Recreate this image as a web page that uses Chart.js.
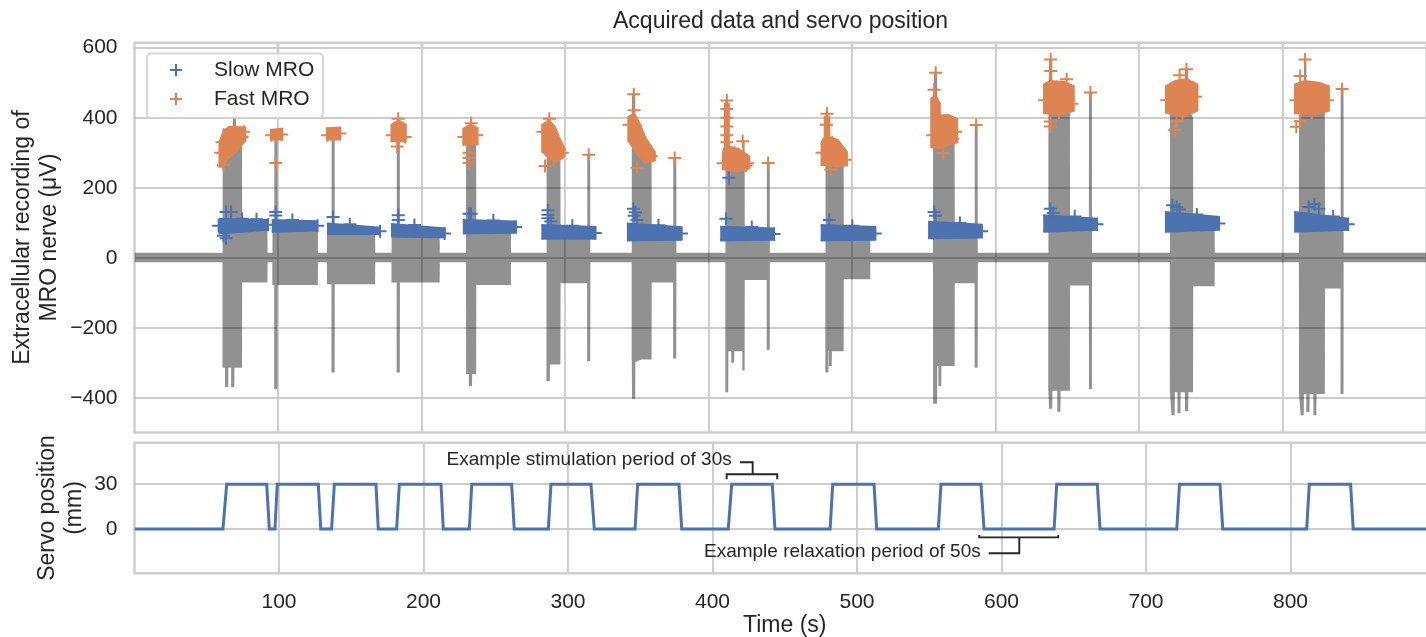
<!DOCTYPE html>
<html>
<head>
<meta charset="utf-8">
<script src="https://cdn.jsdelivr.net/npm/chart.js@4.4.1/dist/chart.umd.min.js"></script>
<style>
  html, body { margin: 0; padding: 0; background: #fff; overflow: hidden; }
  #wrap { position: relative; width: 1426px; height: 637px; overflow: hidden; }
  #signalChart { position: absolute; left: 0; top: 0; }
  #servoChart { position: absolute; left: 0; top: 400px; }
</style>
</head>
<body>
<div id="wrap">
  <canvas id="signalChart" width="1435" height="441"></canvas>
  <canvas id="servoChart" width="1435" height="246"></canvas>
</div>
<script>
// ---- data ----
const xTicks = [100, 200, 300, 400, 500, 600, 700, 800];
const signalYTicks = [-400, -200, 0, 200, 400, 600];
const servoYTicks = [0, 30];
const seriesNames = ['Slow MRO', 'Fast MRO'];

// servo position (mm) over time (s)
const servoTime = [0, 61.2, 63.8, 91.5, 93.3, 97.2, 98.8, 127.2, 128.9, 136.4, 138.3, 167.1, 168.7,
  181.4, 183.3, 212.1, 213.7, 231.7, 233.4, 261.0, 262.8, 286.4, 288.2, 315.9, 318.2,
  346.4, 348.2, 376.8, 378.7, 410.9, 413.3, 441.4, 443.2, 481.4, 483.2, 511.8, 513.6,
  556.3, 558.1, 585.8, 587.9, 636.4, 638.2, 666.3, 668.2, 721.3, 723.2, 751.2, 753.1,
  811.2, 813.0, 841.6, 843.4, 900];
const servoPos = [0, 0, 30, 30, 0, 0, 30, 30, 0, 0, 30, 30, 0,
  0, 30, 30, 0, 0, 30, 30, 0, 0, 30, 30, 0,
  0, 30, 30, 0, 0, 30, 30, 0, 0, 30, 30, 0,
  0, 30, 30, 0, 0, 30, 30, 0, 0, 30, 30, 0,
  0, 30, 30, 0, 0];

// recorded signal envelope: [time, upper µV, lower µV]
const signalEnvelope = [
  [0, 15, -12],
  [61.3, 15, -12], [61.4, 370, -313], [63.0, 370, -313], [63.1, 370, -368], [65.3, 370, -368], [65.4, 370, -313],
  [67.3, 375, -313], [67.4, 375, -368], [68.4, 375, -368], [68.5, 407, -368], [69.5, 407, -368], [69.6, 407, -313],
  [70.6, 407, -313], [70.7, 375, -313], [74.9, 360, -313], [75.0, 95, -70], [92.6, 95, -70], [92.7, 15, -12],
  [96.0, 15, -12], [96.1, 95, -77], [97.3, 95, -77], [97.4, 360, -374], [99.5, 360, -374], [99.6, 95, -77], [127.7, 95, -77], [127.8, 15, -12],
  [134.0, 15, -12], [134.1, 85, -75], [137.2, 85, -75], [137.3, 369, -327], [139.4, 369, -327], [139.5, 85, -75], [167.6, 85, -75], [167.7, 15, -12],
  [179.0, 15, -12], [179.1, 85, -70], [182.6, 85, -70], [182.7, 393, -327], [184.8, 393, -327], [184.9, 85, -70], [212.6, 85, -70], [212.7, 15, -12],
  [230.9, 15, -12], [231.0, 340, -332], [232.9, 340, -332], [233.0, 379, -365], [235.1, 379, -365], [235.2, 340, -332],
  [238.0, 330, -332], [238.1, 90, -77], [262.2, 90, -77], [262.3, 15, -12],
  [286.9, 15, -12], [287.0, 350, -304], [287.1, 397, -351], [289.3, 397, -351], [289.4, 360, -304], [293.0, 350, -304],
  [296.7, 300, -304], [296.8, 75, -72], [315.3, 75, -72], [315.4, 294, -295], [317.4, 294, -295], [317.5, 75, -72], [317.6, 15, -12],
  [346.3, 15, -12], [346.4, 400, -290], [346.6, 467, -402], [348.8, 467, -402], [348.9, 400, -297], [353.0, 380, -290],
  [360.2, 280, -290], [360.3, 85, -70], [375.2, 85, -70], [375.3, 285, -287], [377.4, 285, -287], [377.5, 15, -12],
  [411.5, 15, -12], [411.6, 300, -266], [411.7, 449, -383], [413.6, 449, -383], [413.7, 300, -266], [415.7, 300, -266],
  [415.8, 300, -299], [417.7, 300, -299], [417.8, 300, -266], [423.4, 300, -266], [423.5, 333, -321], [425.0, 333, -321],
  [425.1, 80, -63], [440.4, 80, -63], [440.5, 271, -262], [442.5, 271, -262], [442.6, 15, -12],
  [481.2, 15, -12], [481.3, 330, -266], [481.4, 411, -327], [483.4, 411, -327], [483.5, 330, -266], [483.8, 330, -266],
  [483.9, 330, -309], [485.7, 330, -309], [485.8, 330, -266], [494.0, 300, -266], [494.1, 70, -61], [512.5, 70, -61], [512.6, 15, -12],
  [556.2, 15, -12], [556.3, 420, -308], [556.9, 528, -416], [559.1, 528, -416], [559.2, 400, -308], [560.0, 400, -308],
  [560.1, 400, -365], [562.0, 400, -365], [562.1, 400, -308], [571.3, 350, -308], [571.4, 85, -72], [585.2, 85, -72],
  [585.3, 379, -313], [587.3, 379, -313], [587.4, 85, -72], [587.5, 15, -12],
  [636.5, 15, -12], [636.6, 440, -379], [637.1, 566, -430], [639.3, 566, -430], [639.4, 440, -379], [642.8, 440, -379],
  [642.9, 440, -439], [645.0, 440, -439], [645.1, 440, -379], [651.6, 420, -379], [651.7, 95, -79], [664.8, 95, -79],
  [664.9, 472, -374], [666.9, 472, -374], [667.0, 15, -12],
  [721.2, 15, -12], [721.3, 430, -383], [722.4, 430, -449], [724.6, 430, -449], [724.7, 430, -383], [726.5, 430, -383],
  [726.6, 430, -443], [728.6, 430, -443], [728.7, 430, -383], [731.7, 430, -383], [731.8, 538, -437], [734.0, 538, -437],
  [734.1, 430, -383], [737.4, 400, -383], [737.5, 100, -81], [752.4, 100, -81], [752.5, 15, -12],
  [811.1, 15, -12], [811.2, 440, -388], [812.4, 440, -449], [814.5, 440, -449], [814.6, 566, -388], [816.3, 566, -388],
  [816.4, 440, -440], [818.5, 440, -440], [818.6, 440, -388], [821.2, 440, -388], [821.3, 440, -449], [823.3, 440, -449],
  [823.4, 440, -388], [829.2, 420, -388], [829.3, 100, -87], [840.1, 100, -87], [840.2, 482, -388], [842.2, 482, -388],
  [842.3, 15, -12],
  [900, 15, -12]
];

// slow MRO spike clusters: [tStart, tEnd, topStart, bottomStart, topEnd, bottomEnd]
const slowBands = [
  [58.6, 92.6, 112, 70, 108, 80],
  [95.6, 127.2, 108, 75, 105, 78],
  [134.1, 171.0, 98, 68, 86, 68],
  [178.7, 216.0, 97, 61, 84, 58],
  [228.7, 265.6, 108, 70, 104, 72],
  [283.4, 321.0, 94, 55, 88, 55],
  [343.0, 381.0, 98, 50, 88, 52],
  [408.0, 445.5, 89, 50, 84, 52],
  [478.0, 516.0, 94, 50, 88, 52],
  [552.8, 590.2, 103, 56, 95, 58],
  [633.0, 670.5, 122, 75, 112, 80],
  [717.8, 755.4, 131, 75, 117, 80],
  [807.8, 845.4, 131, 75, 112, 80]
];
const slowPoints = [
  [63.8, 131], [67.3, 131], [63.8, 56], [62, 63], [58.6, 92], [93, 95], [75, 112], [85, 110],
  [98.4, 131], [98.4, 121], [127.5, 92], [110, 108], [138.3, 117], [171, 76], [150, 96],
  [183.7, 122], [183.7, 108], [216, 70], [195, 94], [233, 126], [234.5, 126], [265.6, 88], [250, 107],
  [288, 136], [288, 123], [288, 113], [290, 104], [321, 71], [305, 92],
  [347.5, 140], [349, 130], [348, 120], [350, 108], [381, 70], [365, 93],
  [412, 112], [414, 229], [445.5, 68], [430, 88], [484, 108], [516, 70], [500, 92],
  [557, 131], [558, 120], [590.2, 76], [575, 100], [638, 140], [640, 128], [670.5, 96], [655, 118],
  [723, 150], [726, 145], [728, 138], [755.4, 98], [740, 124], [822, 153], [818, 145], [825, 140], [845.4, 96], [835, 118]
];

// fast MRO spike clusters, outlines as [time, µV]
const fastBlobs = [
  [[59.2, 257], [59.2, 330], [62, 362], [66, 374], [77.2, 372], [77.2, 335], [70, 300], [64, 281], [61.5, 257]],
  [[95, 335], [95, 365], [103, 369], [103, 335]],
  [[134, 335], [134, 370], [143.4, 372], [143.4, 335]],
  [[179, 330], [179, 380], [184, 392], [189, 380], [189, 330]],
  [[229, 320], [229, 368], [234, 380], [239, 370], [239, 322]],
  [[284, 300], [284, 380], [289, 392], [293, 372], [296, 342], [299.5, 312], [299.5, 290], [294, 275], [288, 285]],
  [[344, 330], [344, 402], [348, 412], [352, 382], [356, 342], [362.5, 302], [362.5, 278], [356, 272], [349, 300]],
  [[409.8, 250], [409.8, 300], [411.2, 318], [411.2, 440], [414, 440], [414, 318], [421, 310], [428.2, 290], [428.2, 255], [420, 247], [413, 250]],
  [[478.6, 262], [478.6, 330], [480.8, 345], [480.8, 402], [484, 402], [484, 345], [490, 336], [496.3, 302], [496.3, 265], [488, 260]],
  [[555, 313], [555, 455], [558, 464], [561, 440], [561, 406], [567, 408], [573, 396], [573, 330], [565, 320], [560, 312]],
  [[633.6, 410], [633.6, 495], [638, 505], [648, 502], [654.3, 490], [654.3, 420], [645, 408]],
  [[718.5, 412], [718.5, 490], [725, 505], [733, 510], [740.4, 495], [740.4, 420], [730, 402]],
  [[808.4, 410], [808.4, 495], [815, 505], [825, 500], [832, 490], [832, 420], [820, 407]]
];
const fastPoints = [
  [69.5, 426], [60, 300], [61, 330], [76, 360], [75, 345], [62, 265],
  [98.4, 271], [95.5, 350], [102.5, 352], [134.5, 350], [143, 355],
  [183.7, 397], [183, 318], [179.5, 350], [188.5, 345],
  [233, 300], [233, 285], [233, 271], [234.5, 384], [229.5, 345], [238.5, 350],
  [289, 397], [286, 262], [284.5, 360], [298, 300], [292, 280], [316.4, 294],
  [347.8, 467], [348, 421], [350, 257], [344.5, 380], [360, 290], [355, 320], [376.3, 285],
  [412.6, 449], [412.6, 425], [412.6, 400], [412.6, 375], [412.6, 350], [412.6, 330], [423.7, 333], [426, 263],
  [410, 270], [427, 270], [418, 300], [441.4, 271],
  [482.4, 411], [482, 380], [485, 252], [479, 300], [495, 280], [486, 330],
  [558.1, 528], [557, 480], [563, 299], [556, 350], [572, 360], [570, 340], [586.3, 379],
  [638.2, 566], [638.3, 533], [649.3, 510], [638, 389], [638, 375], [634, 450], [653, 440], [644, 415], [665.9, 472],
  [732.8, 538], [728, 521], [724.7, 365], [726, 390], [719, 450], [739, 460], [730, 410],
  [815.4, 566], [812, 519], [809.3, 374], [812, 390], [809, 450], [831, 450], [820, 412], [841.2, 482]
];

// annotations on the servo panel
const noteTexts = [
  { text: 'Example stimulation period of 30s', t: 413.3, v: 46.7 },
  { text: 'Example relaxation period of 50s', t: 585.6, v: -15.2 }
];
const bracketPaths = [
  [[419.0, 44.8], [427.8, 44.8], [427.8, 36.7]],
  [[409.8, 33.4], [409.8, 36.7], [444.8, 36.7], [444.8, 33.4]],
  [[591.1, -16.3], [612.3, -16.3], [612.3, -5.6]],
  [[584.6, -4.0], [584.6, -5.6], [639.3, -5.6], [639.3, -4.0]]
];

// ---- styling ----
const FONT = "'Liberation Sans', Arial, sans-serif";
const INK = '#262626';
const GRID = '#cccccc';
const BLUE = '#4c72b0';
const ORANGE = '#dd8452';
const SIGNAL = 'rgba(0, 0, 0, 0.43)';

Chart.defaults.font.family = FONT;
Chart.defaults.color = INK;

const minus = v => String(v).replace('-', '\u2212');
const toXY = arr => arr.map(p => ({ x: p[0], y: p[1] }));

// signal envelope closed into one shape: upper edge forward, lower edge back
const signalShape = signalEnvelope.map(r => ({ x: r[0], y: r[1] }))
  .concat(signalEnvelope.slice().reverse().map(r => ({ x: r[0], y: r[2] })));

// pin the plot box: fixed axis width, no extra room for edge labels
function pinY(s) {
  s.width = 134.5;
  s.paddingTop = 0;
  s.paddingBottom = 0;
}

const frame = {
  id: 'frame',
  beforeDatasetsDraw(chart) {
    const { ctx, chartArea: a } = chart;
    ctx.save();
    ctx.strokeStyle = GRID;
    ctx.lineWidth = 2.4;
    ctx.strokeRect(a.left, a.top, a.right - a.left, a.bottom - a.top);
    ctx.restore();
  }
};

function drawCross(ctx, x, y, r, color) {
  ctx.strokeStyle = color;
  ctx.lineWidth = 2;
  ctx.beginPath();
  ctx.moveTo(x - r, y); ctx.lineTo(x + r, y);
  ctx.moveTo(x, y - r); ctx.lineTo(x, y + r);
  ctx.stroke();
}

const insideLegend = {
  id: 'insideLegend',
  afterDraw(chart) {
    const ctx = chart.ctx;
    ctx.save();
    ctx.fillStyle = 'rgba(255,255,255,0.85)';
    ctx.strokeStyle = 'rgba(204,204,204,0.8)';
    ctx.lineWidth = 1.9;
    ctx.beginPath();
    ctx.roundRect(147, 53.5, 176, 64.5, 4);
    ctx.fill();
    ctx.stroke();
    const colors = [BLUE, ORANGE];
    ctx.font = '21px ' + FONT;
    ctx.textBaseline = 'middle';
    seriesNames.forEach((name, i) => {
      const y = 70 + i * 29;
      drawCross(ctx, 176, y, 6, colors[i]);
      ctx.fillStyle = INK;
      ctx.fillText(name, 214, y);
    });
    ctx.restore();
  }
};

const notes = {
  id: 'notes',
  afterDatasetsDraw(chart) {
    const { ctx, scales: { x, y } } = chart;
    ctx.save();
    ctx.strokeStyle = INK;
    ctx.lineWidth = 1.9;
    bracketPaths.forEach(path => {
      ctx.beginPath();
      path.forEach(([t, v], i) => {
        const px = x.getPixelForValue(t), py = y.getPixelForValue(v);
        if (i) ctx.lineTo(px, py); else ctx.moveTo(px, py);
      });
      ctx.stroke();
    });
    ctx.fillStyle = INK;
    ctx.font = '19px ' + FONT;
    ctx.textAlign = 'right';
    ctx.textBaseline = 'middle';
    noteTexts.forEach(n => ctx.fillText(n.text, x.getPixelForValue(n.t), y.getPixelForValue(n.v)));
    ctx.restore();
  }
};

const gridOpts = { color: GRID, lineWidth: 1.9, drawTicks: false };

// ===== TOP: recorded signal =====
const topDatasets = [{
  label: 'signal',
  data: signalShape,
  fill: 'shape',
  backgroundColor: SIGNAL,
  borderColor: 'rgba(0,0,0,0)',
  borderWidth: 0,
  pointRadius: 0,
  order: 10
}];
slowBands.forEach(b => topDatasets.push({
  label: 'slowBand',
  data: [{ x: b[0], y: b[2] }, { x: b[1], y: b[4] }, { x: b[1], y: b[5] }, { x: b[0], y: b[3] }],
  fill: 'shape',
  backgroundColor: BLUE,
  borderColor: BLUE,
  borderWidth: 2,
  pointRadius: 0,
  order: 6
}));
topDatasets.push({
  label: seriesNames[0],
  data: toXY(slowPoints),
  showLine: false,
  pointStyle: 'cross',
  pointRadius: 6.5,
  pointBorderWidth: 2,
  pointBorderColor: BLUE,
  order: 5
});
fastBlobs.forEach(b => topDatasets.push({
  label: 'fastBlob',
  data: toXY(b),
  fill: 'shape',
  backgroundColor: ORANGE,
  borderColor: ORANGE,
  borderWidth: 2,
  pointRadius: 0,
  order: 4
}));
topDatasets.push({
  label: seriesNames[1],
  data: toXY(fastPoints),
  showLine: false,
  pointStyle: 'cross',
  pointRadius: 6.5,
  pointBorderWidth: 2,
  pointBorderColor: ORANGE,
  order: 3
});

new Chart(document.getElementById('signalChart'), {
  type: 'line',
  data: { datasets: topDatasets },
  options: {
    responsive: false,
    animation: false,
    events: [],
    layout: { padding: { left: 0, right: 0, top: 0, bottom: 1.7 } },
    plugins: {
      legend: { display: false },
      tooltip: { enabled: false },
      title: {
        display: true,
        text: 'Acquired data and servo position',
        fullSize: false,
        color: INK,
        font: { size: 23, weight: 'normal' },
        padding: { top: 7.5, bottom: 7.6 }
      }
    },
    scales: {
      x: {
        type: 'linear', min: 0, max: 900,
        ticks: { display: false },
        grid: gridOpts,
        border: { display: false },
        afterBuildTicks: s => { s.ticks = xTicks.map(v => ({ value: v })); },
        afterFit: s => { s.height = 0; s.paddingLeft = 0; s.paddingRight = 0; }
      },
      y: {
        type: 'linear', min: -498, max: 614,
        ticks: { font: { size: 21 }, color: INK, padding: 17, callback: v => minus(v) },
        grid: gridOpts,
        border: { display: false },
        title: {
          display: true,
          text: ['Extracellular recording of', 'MRO nerve (\u03bcV)'],
          color: INK,
          font: { size: 23, lineHeight: 1.17 },
          padding: { top: 9, bottom: 0 }
        },
        afterBuildTicks: s => { s.ticks = signalYTicks.map(v => ({ value: v })); },
        afterFit: pinY
      }
    }
  },
  plugins: [frame, insideLegend]
});

// ===== BOTTOM: servo position =====
new Chart(document.getElementById('servoChart'), {
  type: 'line',
  data: {
    datasets: [{
      label: 'Servo position',
      data: servoTime.map((t, i) => ({ x: t, y: servoPos[i] })),
      borderColor: BLUE,
      borderWidth: 3,
      pointRadius: 0,
      fill: false,
      tension: 0
    }]
  },
  options: {
    responsive: false,
    animation: false,
    events: [],
    layout: { padding: { left: 0, right: 0, top: 42.7, bottom: 0 } },
    plugins: { legend: { display: false }, tooltip: { enabled: false } },
    scales: {
      x: {
        type: 'linear', min: 0, max: 900,
        ticks: { font: { size: 21 }, color: INK, padding: 16, maxRotation: 0 },
        grid: gridOpts,
        border: { display: false },
        title: {
          display: true,
          text: 'Time (s)',
          color: INK,
          font: { size: 23 },
          padding: { top: 0, bottom: 6.2 }
        },
        afterBuildTicks: s => { s.ticks = xTicks.map(v => ({ value: v })); },
        afterFit: s => { s.height = 72.7; s.paddingLeft = 0; s.paddingRight = 0; }
      },
      y: {
        type: 'linear', min: -29.7, max: 57.9,
        ticks: { font: { size: 21 }, color: INK, padding: 17, callback: v => minus(v) },
        grid: gridOpts,
        border: { display: false },
        title: {
          display: true,
          text: ['Servo position', '(mm)'],
          color: INK,
          font: { size: 23, lineHeight: 1.17 },
          padding: { top: 34.2, bottom: 0 }
        },
        afterBuildTicks: s => { s.ticks = servoYTicks.map(v => ({ value: v })); },
        afterFit: pinY
      }
    }
  },
  plugins: [frame, notes]
});
</script>
</body>
</html>
